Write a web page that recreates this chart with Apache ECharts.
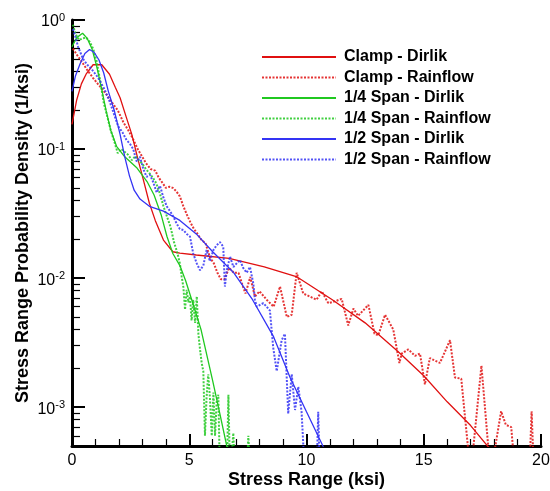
<!DOCTYPE html>
<html>
<head>
<meta charset="utf-8">
<script src="https://cdn.jsdelivr.net/npm/echarts@6/dist/echarts.min.js"></script>
<style>
  html, body { margin: 0; padding: 0; background: #fff; }
  #chart { width: 550px; height: 491px; }
</style>
</head>
<body>
<div id="chart"></div>
<script>
// values: [stress range (ksi), probability density (1/ksi)]
var clampDirlik = [
  [0, 0.155], [0.2, 0.24], [0.4, 0.32], [0.6, 0.38], [0.9, 0.45], [1.27, 0.45],
  [1.6, 0.38], [1.85, 0.30], [2.05, 0.25], [2.3, 0.18], [2.55, 0.13], [2.8, 0.085],
  [3.0, 0.062], [3.3, 0.038], [3.55, 0.028], [3.9, 0.0197], [4.3, 0.016], [4.6, 0.0156],
  [5.3, 0.0151], [6.7, 0.0142], [8.2, 0.0122], [9.6, 0.0102], [11.1, 0.0068], [12.5, 0.0045],
  [13.9, 0.0027], [15.0, 0.00175], [16.0, 0.0011], [17.0, 0.00072], [17.8, 0.00048], [18.2, 0.0004]
]
var clampRainflow = [
  [0.04, 0.6], [0.2, 0.54], [0.4, 0.48], [0.65, 0.41], [0.9, 0.355], [1.1, 0.32], [1.3, 0.29],
  [1.5, 0.26], [1.7, 0.23], [1.95, 0.2], [2.2, 0.16], [2.4, 0.14], [2.6, 0.12], [2.8, 0.1],
  [2.95, 0.09], [3.15, 0.078], [3.35, 0.07], [3.55, 0.068], [3.7, 0.06], [3.85, 0.055],
  [4.0, 0.05], [4.15, 0.051], [4.3, 0.05], [4.45, 0.047], [4.6, 0.043], [4.75, 0.036],
  [4.9, 0.031], [5.05, 0.027], [5.2, 0.024], [5.35, 0.022], [5.5, 0.02], [5.7, 0.0185],
  [5.88, 0.0145], [6.05, 0.013], [6.2, 0.011], [6.35, 0.0098], [6.5, 0.0098], [6.7, 0.012],
  [6.9, 0.011], [7.1, 0.011], [7.3, 0.0085], [7.4, 0.0076], [7.6, 0.0102], [7.8, 0.0072],
  [8.0, 0.0079], [8.3, 0.0068], [8.6, 0.006], [8.87, 0.0086], [9.16, 0.005], [9.37, 0.0052],
  [9.58, 0.011], [9.86, 0.0076], [10.0, 0.0074], [10.43, 0.0068], [10.65, 0.0079], [10.93, 0.0064],
  [11.2, 0.0066], [11.5, 0.0069], [11.78, 0.0043], [12.0, 0.0058], [12.2, 0.0051], [12.64, 0.0062],
  [12.9, 0.0037], [13.06, 0.0036], [13.35, 0.0052], [13.7, 0.004], [13.96, 0.0022], [14.06, 0.0026],
  [14.34, 0.0028], [14.63, 0.0025], [14.84, 0.0026], [15.05, 0.0015], [15.26, 0.0024], [15.69, 0.0022],
  [16.12, 0.0033], [16.33, 0.0017], [16.6, 0.00166], [17.0, 0.0003], [17.46, 0.0021], [17.85, 0.0003],
  [18.3, 0.00093], [18.5, 0.00073], [18.73, 0.0007], [18.9, 0.0003], [19.5, 0.0003], [19.6, 0.00093],
  [19.7, 0.0003]
]
var quarterDirlik = [
  [0, 0.62], [0.2, 0.73], [0.45, 0.79], [0.65, 0.72], [0.85, 0.6], [1.05, 0.44], [1.25, 0.3],
  [1.45, 0.2], [1.65, 0.14], [1.9, 0.105], [2.25, 0.087], [2.75, 0.072], [3.2, 0.056], [3.5, 0.044],
  [3.8, 0.031], [4.05, 0.021], [4.3, 0.0155], [4.6, 0.0125], [4.85, 0.0095], [5.2, 0.006],
  [5.5, 0.004], [6.0, 0.0016], [6.3, 0.0009], [6.6, 0.0005], [6.8, 0.0004]
]
var quarterRainflow = [
  [0.04, 0.92], [0.15, 0.78], [0.3, 0.7], [0.45, 0.72], [0.6, 0.73], [0.75, 0.68], [0.9, 0.6],
  [1.05, 0.48], [1.2, 0.34], [1.35, 0.23], [1.5, 0.18], [1.65, 0.14], [1.8, 0.115], [1.95, 0.093],
  [2.1, 0.1], [2.25, 0.095], [2.4, 0.09], [2.55, 0.082], [2.7, 0.088], [2.85, 0.082], [3.0, 0.077],
  [3.15, 0.07], [3.3, 0.065], [3.45, 0.06], [3.6, 0.054], [3.75, 0.045], [3.9, 0.036], [4.05, 0.03],
  [4.2, 0.025], [4.35, 0.019], [4.5, 0.0155], [4.6, 0.013], [4.68, 0.0102], [4.75, 0.0085],
  [4.82, 0.0057], [4.89, 0.0081], [4.96, 0.0065], [5.03, 0.0072], [5.1, 0.0047], [5.17, 0.0068],
  [5.25, 0.0045], [5.32, 0.0072], [5.39, 0.0037], [5.46, 0.0028], [5.53, 0.0022], [5.6, 0.0019],
  [5.67, 0.0006], [5.74, 0.0012], [5.81, 0.0018], [5.88, 0.0012], [5.96, 0.0006], [6.03, 0.0013],
  [6.1, 0.0006], [6.17, 0.0011], [6.24, 0.00125], [6.31, 0.0003], [6.6, 0.0003], [6.67, 0.00125],
  [6.74, 0.0003], [6.88, 0.00063], [6.95, 0.0003], [7.45, 0.0003], [7.52, 0.0006], [7.6, 0.0003]
]
var halfDirlik = [
  [0, 0.28], [0.15, 0.37], [0.35, 0.46], [0.55, 0.55], [0.75, 0.59], [0.95, 0.56], [1.15, 0.49],
  [1.35, 0.39], [1.55, 0.28], [1.8, 0.2], [2.05, 0.13], [2.25, 0.087], [2.45, 0.062], [2.65, 0.048],
  [2.9, 0.041], [3.3, 0.036], [3.9, 0.033], [4.6, 0.028], [5.3, 0.022], [6.0, 0.016], [6.9, 0.011],
  [7.7, 0.0068], [8.6, 0.0035], [9.3, 0.0017], [10.0, 0.00092], [10.7, 0.0005], [10.9, 0.0004]
]
var halfRainflow = [
  [0.04, 0.85], [0.13, 0.76], [0.26, 0.62], [0.47, 0.5], [0.65, 0.45], [0.82, 0.42], [1.1, 0.36],
  [1.39, 0.29], [1.62, 0.23], [1.82, 0.18], [1.97, 0.15], [2.15, 0.135], [2.33, 0.117], [2.47, 0.11],
  [2.61, 0.1], [2.76, 0.08], [2.9, 0.087], [3.04, 0.07], [3.18, 0.061], [3.33, 0.063], [3.47, 0.055],
  [3.61, 0.046], [3.75, 0.052], [3.9, 0.042], [4.04, 0.036], [4.18, 0.033], [4.32, 0.03], [4.46, 0.0265],
  [4.6, 0.024], [4.75, 0.0236], [4.89, 0.022], [5.03, 0.021], [5.17, 0.0155], [5.32, 0.013],
  [5.46, 0.0115], [5.6, 0.0125], [5.74, 0.0165], [5.88, 0.0135], [6.03, 0.0165], [6.17, 0.018],
  [6.31, 0.019], [6.45, 0.0175], [6.52, 0.0086], [6.6, 0.0115], [6.74, 0.0147], [6.88, 0.0122],
  [7.02, 0.013], [7.16, 0.0138], [7.3, 0.012], [7.45, 0.011], [7.59, 0.0122], [7.73, 0.0091],
  [7.8, 0.0068], [7.88, 0.006], [8.02, 0.0062], [8.16, 0.0064], [8.3, 0.006], [8.44, 0.0056],
  [8.58, 0.0029], [8.73, 0.0019], [8.8, 0.0019], [8.94, 0.0033], [9.08, 0.0037], [9.16, 0.0037],
  [9.22, 0.00089], [9.37, 0.0018], [9.51, 0.00095], [9.65, 0.00144], [9.72, 0.0014], [9.79, 0.00092],
  [9.93, 0.0003], [10.43, 0.0003], [10.5, 0.00092], [10.57, 0.0003]
]
var seriesNames = ['Clamp - Dirlik', 'Clamp - Rainflow', '1/4 Span - Dirlik', '1/4 Span - Rainflow', '1/2 Span - Dirlik', '1/2 Span - Rainflow']
var yMajorTicks = [0.001, 0.01, 0.1, 1]
var yMinorTicks = [0.0006, 0.0007, 0.0008, 0.0009,
  0.002, 0.003, 0.004, 0.005, 0.006, 0.007, 0.008, 0.009,
  0.02, 0.03, 0.04, 0.05, 0.06, 0.07, 0.08, 0.09,
  0.2, 0.3, 0.4, 0.5, 0.6, 0.7, 0.8, 0.9]

var font = 'Liberation Sans, Arial, sans-serif'
var red = '#e01010'
var green = '#20c820'
var blue = '#3434f4'

function solid (name, color, data) {
  return {
    name: name,
    type: 'line',
    symbol: 'none',
    clip: true,
    lineStyle: { color: color, width: 1.3 },
    itemStyle: { color: color },
    data: data
  }
}
function dotted (name, color, data) {
  return {
    name: name,
    type: 'line',
    symbol: 'none',
    clip: true,
    lineStyle: { color: color, width: 2, type: [2, 1.5], opacity: 0.85 },
    itemStyle: { color: color },
    data: data
  }
}

var chart = echarts.init(document.getElementById('chart'))
chart.setOption({
  animation: false,
  backgroundColor: '#fff',
  grid: { left: 72, top: 20, width: 469, height: 426, outerBoundsMode: 'none', containLabel: false },
  legend: {
    orient: 'vertical',
    left: 256,
    top: 44,
    itemWidth: 74,
    itemHeight: 14,
    itemGap: 4.5,
    data: seriesNames,
    itemStyle: { opacity: 0 },
    textStyle: { fontFamily: font, fontSize: 16, fontWeight: 'bold', color: '#000', padding: [0, 0, 0, 3] }
  },
  xAxis: {
    type: 'value',
    min: 0,
    max: 20,
    interval: 5,
    name: 'Stress Range (ksi)',
    nameLocation: 'middle',
    nameMoveOverlap: false,
    nameGap: 25,
    nameTextStyle: { fontFamily: font, fontSize: 18, fontWeight: 'bold', color: '#000' },
    axisLine: { onZero: false, lineStyle: { color: '#000', width: 3 } },
    axisTick: { inside: true, length: 12, lineStyle: { color: '#000', width: 2 } },
    minorTick: { show: true, splitNumber: 5, length: 7, lineStyle: { color: '#000', width: 1.2 } },
    axisLabel: { fontFamily: font, fontSize: 16, color: '#000', margin: 7 },
    splitLine: { show: false }
  },
  yAxis: [{
    type: 'log',
    logBase: 10,
    min: 0.0005,
    max: 1,
    name: 'Stress Range Probability Density (1/ksi)',
    nameLocation: 'middle',
    nameMoveOverlap: false,
    nameGap: 40,
    nameTextStyle: { fontFamily: font, fontSize: 18, fontWeight: 'bold', color: '#000' },
    axisLine: { onZero: false, lineStyle: { color: '#000', width: 3 } },
    axisTick: { inside: true, length: 13, customValues: yMajorTicks, lineStyle: { color: '#000', width: 2 } },
    axisLabel: {
      customValues: yMajorTicks,
      margin: 7,
      padding: [4, 0, 0, 0],
      formatter: function (v) {
        return '{b|10}{s|' + Math.round(Math.log10(v)) + '}'
      },
      rich: {
        b: { fontFamily: font, fontSize: 16, color: '#000', lineHeight: 20 },
        s: { fontFamily: font, fontSize: 11, color: '#000', verticalAlign: 'top', lineHeight: 20 }
      }
    },
    splitLine: { show: false }
  }, {
    type: 'log',
    logBase: 10,
    min: 0.0005,
    max: 1,
    position: 'left',
    axisLine: { show: false },
    axisTick: { inside: true, length: 8, customValues: yMinorTicks, lineStyle: { color: '#000', width: 1.2 } },
    axisLabel: { show: false },
    splitLine: { show: false }
  }],
  series: [
    solid(seriesNames[0], red, clampDirlik),
    dotted(seriesNames[1], red, clampRainflow),
    solid(seriesNames[2], green, quarterDirlik),
    dotted(seriesNames[3], green, quarterRainflow),
    solid(seriesNames[4], blue, halfDirlik),
    dotted(seriesNames[5], blue, halfRainflow)
  ]
})
</script>
</body>
</html>
